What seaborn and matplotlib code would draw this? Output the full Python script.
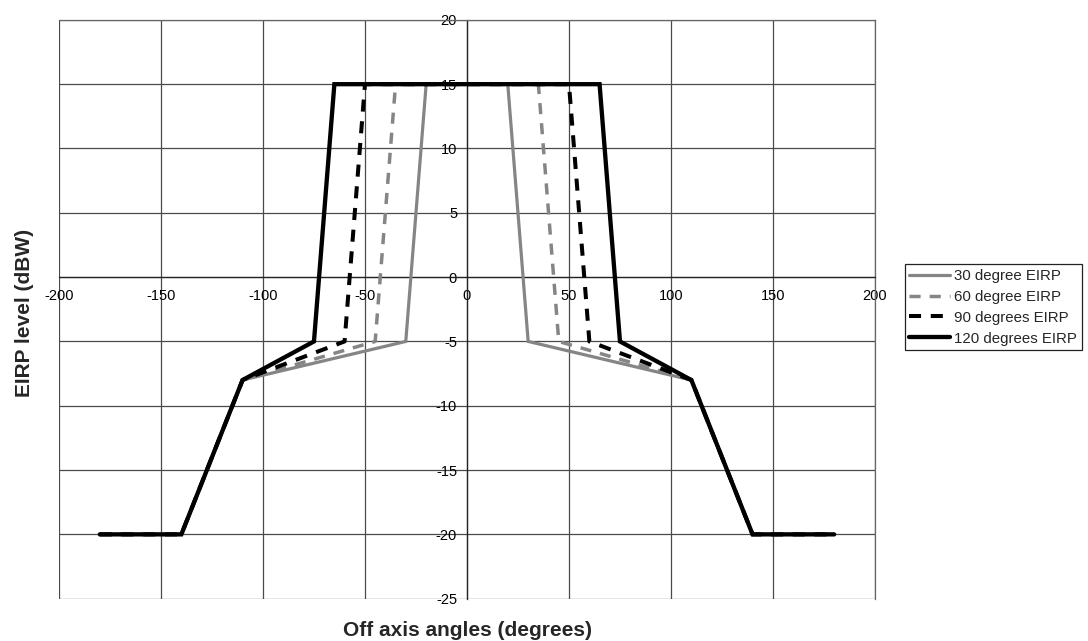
import numpy as np
import pandas as pd
import matplotlib
matplotlib.use("Agg")
import matplotlib.pyplot as plt
import seaborn as sns

# Off-axis EIRP masks for several beamwidths
angles_30 = [-180, -140, -110, -30, -20, 20, 30, 110, 140, 180]
eirp_30 = [-20, -20, -8, -5, 15, 15, -5, -8, -20, -20]
angles_60 = [-180, -140, -110, -45, -35, 35, 45, 110, 140, 180]
eirp_60 = [-20, -20, -8, -5, 15, 15, -5, -8, -20, -20]
angles_90 = [-180, -140, -110, -60, -50, 50, 60, 110, 140, 180]
eirp_90 = [-20, -20, -8, -5, 15, 15, -5, -8, -20, -20]
angles_120 = [-180, -140, -110, -75, -65, 65, 75, 110, 140, 180]
eirp_120 = [-20, -20, -8, -5, 15, 15, -5, -8, -20, -20]

series_names = ["30 degree EIRP", "60 degree EIRP", "90 degrees EIRP", "120 degrees EIRP"]
x_ticks = [-200, -150, -100, -50, 0, 50, 100, 150, 200]
y_ticks = [-25, -20, -15, -10, -5, 0, 5, 10, 15, 20]

sns.set_theme(style="white")
plt.rcParams["font.family"] = ["Liberation Sans", "DejaVu Sans"]
plt.rcParams["axes.unicode_minus"] = False

frames = []
for name, xs, ys in zip(series_names,
                        [angles_30, angles_60, angles_90, angles_120],
                        [eirp_30, eirp_60, eirp_90, eirp_120]):
    frames.append(pd.DataFrame({"angle": xs, "eirp": ys, "series": name}))
df = pd.concat(frames, ignore_index=True)

styles = {
    "30 degree EIRP": dict(color="#858585", lw=2.3, ls="-"),
    "60 degree EIRP": dict(color="#858585", lw=2.5, ls=(0, (3.2, 2.6))),
    "90 degrees EIRP": dict(color="#000000", lw=2.9, ls=(0, (3.0, 2.4))),
    "120 degrees EIRP": dict(color="#000000", lw=3.1, ls="-"),
}

fig = plt.figure(figsize=(10.88, 6.41), dpi=100)
ax = fig.add_axes([0.0542, 0.066, 0.7500, 0.903])

for name in series_names:
    st = styles[name]
    sub = df[df["series"] == name]
    sns.lineplot(data=sub, x="angle", y="eirp", ax=ax, sort=False,
                 color=st["color"], linewidth=st["lw"], linestyle=st["ls"],
                 label=name, solid_joinstyle="miter", dash_capstyle="butt",
                 zorder=3)

ax.set_xlim(-200, 200)
ax.set_ylim(-25, 20)
ax.set_xticks(x_ticks)
ax.set_yticks(y_ticks)
ax.grid(True, color="#4a4a4a", linewidth=0.9)
ax.set_axisbelow(True)

# Axes crossing at the origin, outer frame in grey
ax.spines["left"].set_position(("data", 0))
ax.spines["bottom"].set_position(("data", 0))
for side in ["left", "bottom"]:
    ax.spines[side].set_color("#222222")
    ax.spines[side].set_linewidth(0.9)
for side in ["top", "right"]:
    ax.spines[side].set_color("#666666")
    ax.spines[side].set_linewidth(0.9)

ax.tick_params(axis="both", which="major", labelsize=10.5, colors="black",
               direction="out", length=3.6, width=0.8)
ax.tick_params(axis="x", pad=5)
ax.tick_params(axis="y", pad=3.5)

ax.set_xlabel("")
ax.set_ylabel("")
fig.text(0.430, 0.016, "Off axis angles (degrees)", ha="center", va="center",
         fontsize=15, fontweight="bold")
fig.text(0.0225, 0.512, "EIRP level (dBW)", ha="center", va="center",
         rotation=90, fontsize=15, fontweight="bold")

leg = ax.legend(loc="upper left", bbox_to_anchor=(0.8315, 0.588),
                bbox_transform=fig.transFigure, fontsize=10.8, frameon=True,
                fancybox=False, edgecolor="#222222", framealpha=1,
                borderpad=0.32, labelspacing=0.46, handlelength=2.7,
                handletextpad=0.3, borderaxespad=0)
leg.get_frame().set_linewidth(0.9)

fig.savefig("out.png", dpi=100)
